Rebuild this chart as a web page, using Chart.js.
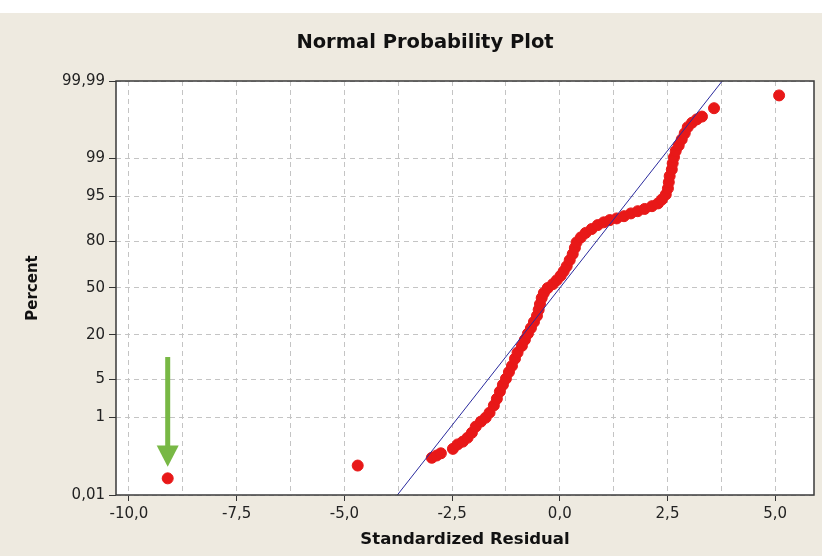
<!DOCTYPE html>
<html>
<head>
<meta charset="utf-8">
<title>Normal Probability Plot</title>
<script src="https://cdn.jsdelivr.net/npm/chart.js@4.4.1/dist/chart.umd.min.js"></script>
<style>
  html, body { margin: 0; padding: 0; background: #fff; }
  #panel { position: absolute; left: 0; top: 13px; width: 822px; height: 543px; background: #eeeae0; }
  #chart { position: absolute; left: 0; top: 0; }
</style>
</head>
<body>
<div id="panel"></div>
<canvas id="chart" width="832" height="556"></canvas>
<script>
// standardized residuals and their normal scores (y position on the probability scale)
const residual = [
  -9.10, -4.69, -2.97, -2.86, -2.76, -2.48, -2.37, -2.25, -2.14, -2.04,
  -1.95, -1.83, -1.72, -1.63, -1.53, -1.46, -1.39, -1.32, -1.25, -1.18,
  -1.11, -1.04, -0.98, -0.88, -0.81, -0.74, -0.67, -0.60, -0.53, -0.49,
  -0.46, -0.42, -0.37, -0.28, -0.16, -0.07, 0.02, 0.09, 0.16, 0.23,
  0.30, 0.35, 0.39, 0.49, 0.60, 0.74, 0.88, 1.02, 1.16, 1.32,
  1.49, 1.65, 1.81, 1.97, 2.14, 2.28, 2.37, 2.46, 2.51, 2.53,
  2.55, 2.60, 2.62, 2.65, 2.69, 2.76, 2.83, 2.90, 2.97, 3.07,
  3.18, 3.30, 3.58, 5.09
];
const normalScore = [
  -3.42, -3.19, -3.05, -3.01, -2.97, -2.89, -2.81, -2.76, -2.69, -2.60,
  -2.49, -2.40, -2.33, -2.24, -2.11, -1.99, -1.86, -1.74, -1.63, -1.51,
  -1.40, -1.27, -1.16, -1.04, -0.93, -0.82, -0.72, -0.61, -0.50, -0.39,
  -0.29, -0.18, -0.09, 0.00, 0.07, 0.14, 0.22, 0.30, 0.39, 0.50,
  0.61, 0.72, 0.82, 0.91, 0.99, 1.06, 1.13, 1.18, 1.22, 1.25,
  1.29, 1.34, 1.38, 1.42, 1.47, 1.52, 1.59, 1.68, 1.79, 1.90,
  2.01, 2.13, 2.24, 2.35, 2.46, 2.56, 2.67, 2.78, 2.89, 2.97,
  3.03, 3.08, 3.23, 3.46
];

// fitted normal line, ends given as residual / percent
const fitResidual = [-3.77, 3.77];
const fitPercent = [0.01, 99.99];

const yTickPercent = [0.01, 1, 5, 20, 50, 80, 95, 99, 99.99];
const yTickLabels = ['0,01', '1', '5', '20', '50', '80', '95', '99', '99,99'];
const xGridValues = [-10, -8.75, -7.5, -6.25, -5, -3.75, -2.5, -1.25, 0, 1.25, 2.5, 3.75, 5];
const xTickLabels = ['-10,0', '', '-7,5', '', '-5,0', '', '-2,5', '', '0,0', '', '2,5', '', '5,0'];

// green marker arrow: residual, then normal scores of shaft top, head base, tip
const arrowResidual = -9.10;
const arrowScore = [-1.24, -2.83, -3.21];

// inverse normal cdf (Acklam)
function probit(p) {
    const a = [-3.969683028665376e+01, 2.209460984245205e+02, -2.759285104469687e+02, 1.383577518672690e+02, -3.066479806614716e+01, 2.506628277459239e+00];
    const b = [-5.447609879822406e+01, 1.615858368580409e+02, -1.556989798598866e+02, 6.680131188771972e+01, -1.328068155288572e+01];
    const c = [-7.784894002430293e-03, -3.223964580411365e-01, -2.400758277161838e+00, -2.549671348960205e+00, 4.374664141464968e+00, 2.938163982698783e+00];
    const d = [7.784695709041462e-03, 3.224671290700398e-01, 2.445134137142996e+00, 3.754408661907416e+00];
    const pl = 0.02425;
    let q, r;
    if (p < pl) {
        q = Math.sqrt(-2 * Math.log(p));
        return (((((c[0]*q+c[1])*q+c[2])*q+c[3])*q+c[4])*q+c[5]) / ((((d[0]*q+d[1])*q+d[2])*q+d[3])*q+1);
    }
    if (p > 1 - pl) {
        q = Math.sqrt(-2 * Math.log(1 - p));
        return -(((((c[0]*q+c[1])*q+c[2])*q+c[3])*q+c[4])*q+c[5]) / ((((d[0]*q+d[1])*q+d[2])*q+d[3])*q+1);
    }
    q = p - 0.5;
    r = q * q;
    return (((((a[0]*r+a[1])*r+a[2])*r+a[3])*r+a[4])*r+a[5])*q / (((((b[0]*r+b[1])*r+b[2])*r+b[3])*r+b[4])*r+1);
}

const points = residual.map((x, i) => ({ x: x, y: normalScore[i] }));
const fitLine = fitResidual.map((x, i) => ({ x: x, y: probit(fitPercent[i] / 100) }));

const plotFrame = {
    id: 'plotFrame',
    beforeDraw(chart) {
        const { ctx, chartArea: a } = chart;
        ctx.save();
        ctx.fillStyle = '#ffffff';
        ctx.fillRect(a.left, a.top, a.right - a.left, a.bottom - a.top);
        ctx.restore();
    },
    afterDraw(chart) {
        const { ctx, chartArea: a, scales } = chart;
        ctx.save();
        ctx.strokeStyle = '#3a3a3a';
        ctx.lineWidth = 1.5;
        ctx.strokeRect(a.left, a.top, a.right - a.left, a.bottom - a.top);

        // arrow pointing at the far outlier
        const x = scales.x.getPixelForValue(arrowResidual);
        const yTop = scales.y.getPixelForValue(arrowScore[0]);
        const yBase = scales.y.getPixelForValue(arrowScore[1]);
        const yTip = scales.y.getPixelForValue(arrowScore[2]);
        ctx.fillStyle = '#78b845';
        ctx.fillRect(x - 2.5, yTop, 5, yBase - yTop + 1);
        ctx.beginPath();
        ctx.moveTo(x - 11, yBase);
        ctx.lineTo(x + 11, yBase);
        ctx.lineTo(x, yTip);
        ctx.closePath();
        ctx.fill();
        ctx.restore();
    }
};

Chart.defaults.font.family = "'DejaVu Sans', Verdana, sans-serif";
Chart.defaults.color = '#222';

const ctx = document.getElementById('chart').getContext('2d');
new Chart(ctx, {
    type: 'scatter',
    data: {
        datasets: [{
            data: fitLine,
            showLine: true,
            borderColor: '#2a2a9e',
            borderWidth: 1,
            pointRadius: 0
        }, {
            data: points,
            backgroundColor: '#e81818',
            borderColor: '#e81818',
            borderWidth: 1,
            pointRadius: 5.5
        }]
    },
    options: {
        responsive: false,
        animation: false,
        layout: { padding: { top: 0, right: 18, bottom: 0, left: 36 } },
        plugins: {
            legend: { display: false },
            tooltip: { enabled: false },
            title: {
                display: true,
                text: 'Normal Probability Plot',
                font: { size: 19.5, weight: 'bold' },
                color: '#111',
                padding: { top: 31, bottom: 26.6 }
            }
        },
        scales: {
            x: {
                type: 'linear',
                min: -10.3,
                max: 5.9,
                afterFit(scale) { scale.height = 61; },
                afterBuildTicks(scale) {
                    scale.ticks = xGridValues.map(v => ({ value: v }));
                },
                ticks: {
                    autoSkip: false,
                    maxRotation: 0,
                    padding: 4,
                    font: { size: 15 },
                    color: '#222',
                    callback: (v, i) => xTickLabels[i]
                },
                grid: {
                    color: '#c4c4c4',
                    lineWidth: 1,
                    tickLength: 6,
                    tickColor: c => xTickLabels[c.index] ? '#333' : 'rgba(0,0,0,0)',
                    tickBorderDash: [0, 0]
                },
                border: { display: false, dash: [5, 4] },
                title: {
                    display: true,
                    text: 'Standardized Residual',
                    font: { size: 16.5, weight: 'bold' },
                    color: '#111',
                    padding: { top: 0, bottom: 6 }
                }
            },
            y: {
                type: 'linear',
                min: probit(yTickPercent[0] / 100),
                max: probit(yTickPercent[yTickPercent.length - 1] / 100),
                afterFit(scale) { scale.width = 80; },
                afterBuildTicks(scale) {
                    scale.ticks = yTickPercent.map(p => ({ value: probit(p / 100) }));
                },
                ticks: {
                    autoSkip: false,
                    padding: 4,
                    font: { size: 15 },
                    color: '#222',
                    callback: (v, i) => yTickLabels[i]
                },
                grid: {
                    color: '#c4c4c4',
                    lineWidth: 1,
                    tickLength: 7,
                    tickColor: '#333',
                    tickBorderDash: [0, 0]
                },
                border: { display: false, dash: [5, 4] },
                title: {
                    display: true,
                    text: 'Percent',
                    font: { size: 15, weight: 'bold' },
                    color: '#111',
                    padding: { top: -12, bottom: 0 }
                }
            }
        }
    },
    plugins: [plotFrame]
});
</script>
</body>
</html>
